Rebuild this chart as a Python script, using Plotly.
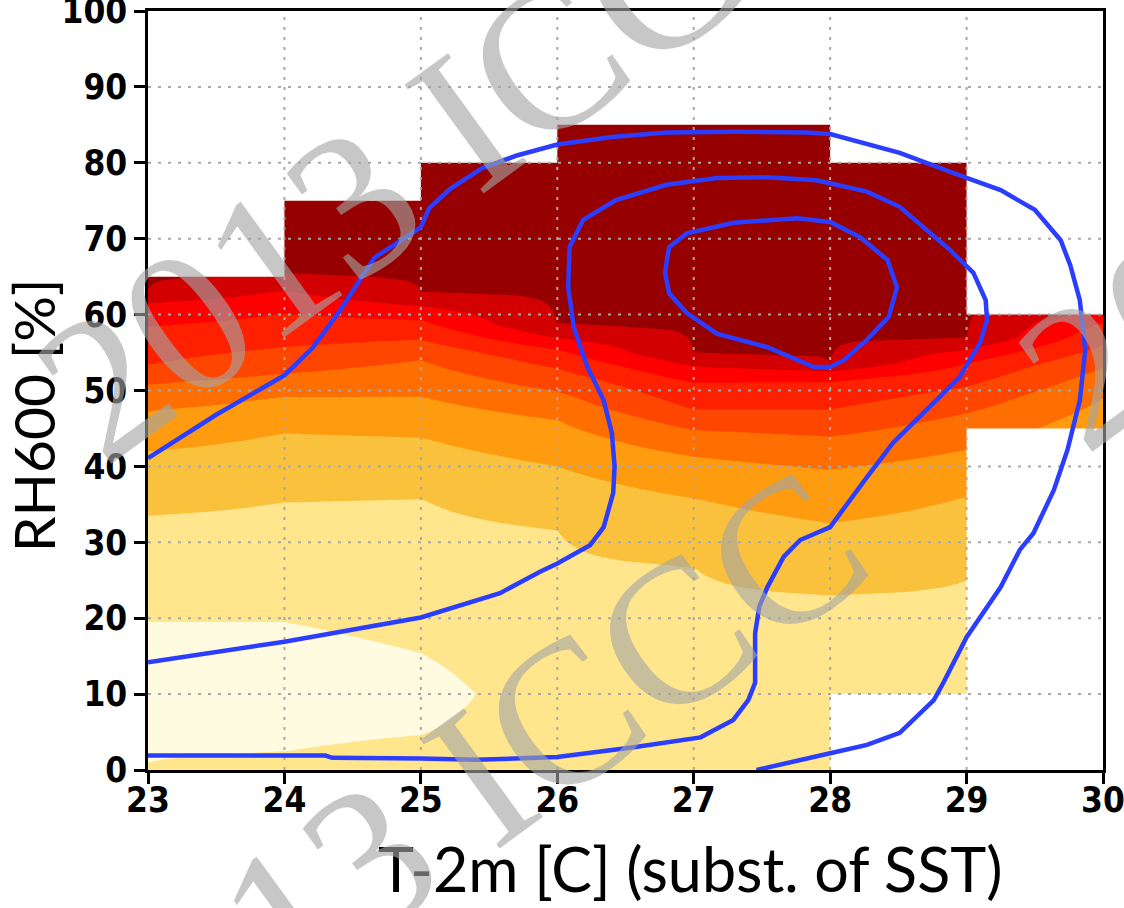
import math
import numpy as np
import plotly.graph_objects as go

# ---------------- data ----------------
x_cols = [23, 24, 25, 26, 27, 28, 29, 30]
# height (RH600 %) of each shading-class boundary at every T-2m column
b2 = [33.5, 35.3, 35.8, 31.6, 26.8, 23.0, 25.0, 32.0]
b3 = [42.0, 44.4, 43.8, 40.0, 35.8, 32.5, 36.0, 41.5]
b4 = [47.3, 49.2, 49.2, 46.1, 41.3, 39.6, 42.2, 49.0]
b5 = [50.8, 52.2, 54.0, 49.9, 44.8, 43.9, 47.0, 53.0]
b6 = [53.4, 55.7, 56.7, 52.9, 47.5, 47.5, 50.5, 56.0]
b7 = [58.4, 60.1, 59.3, 55.4, 51.0, 51.2, 53.6, 59.0]
b8 = [61.5, 63.2, 61.1, 56.9, 53.2, 52.5, 55.4, 60.3]
b9 = [63.2, 65.2, 63.0, 58.6, 54.9, 53.6, 56.9, 61.5]
# lowest class (cream island) in the first columns
cream_low = [1.0, 2.4, 4.6]
cream_high = [19.5, 19.5, 15.4]
cream_core = [0.5, 0.5, 0.6]

# data coverage per 1-degree bin
bin_edges = [23, 24, 25, 26, 27, 28, 29, 30]
bin_top = [65, 75, 80, 85, 85, 80, 60]
bin_bottom = [0, 0, 0, 0, 0, 10, 45]

class_colors = ['#FFFBE0', '#FFE68C', '#FAC23C', '#FF9B0F', '#FF6E00',
                '#FF4600', '#FF2000', '#FF0000', '#D20000', '#960000']

# blue frequency contours
outer_x = [23.0, 23.5, 24.0, 24.21, 24.41, 24.66, 25.0, 25.06, 25.21, 25.45, 25.71,
           26.0, 26.4, 26.8, 27.3, 27.83, 28.0, 28.51, 29.0, 29.25, 29.5, 29.69,
           29.76, 29.83, 29.87, 29.83, 29.74, 29.64, 29.49, 29.39, 29.25, 29.0,
           28.83, 28.76, 28.51, 28.27, 28.0, 27.46]
outer_y = [41.1, 46.8, 52.0, 55.7, 60.6, 67.5, 71.5, 74.0, 76.5, 79.3, 81.0,
           82.4, 83.4, 84.0, 84.1, 84.0, 83.8, 81.3, 78.0, 76.4, 73.8, 69.8,
           66.5, 61.9, 55.3, 48.7, 42.2, 36.9, 31.2, 29.0, 24.1, 17.5,
           11.5, 9.2, 4.9, 3.3, 2.2, 0.0]

middle_x = [23.0, 24.0, 25.0, 25.58, 25.87, 26.0, 26.24, 26.34, 26.41, 26.42, 26.4,
            26.34, 26.22, 26.12, 26.08, 26.09, 26.19, 26.43, 26.8, 27.17, 27.54,
            27.9, 28.27, 28.51, 28.88, 29.05, 29.14, 29.15, 29.1, 28.95, 28.76,
            28.46, 28.27, 28.1, 28.0, 27.78, 27.66, 27.54, 27.48, 27.45, 27.45,
            27.4, 27.29, 27.05, 26.56, 26.0, 25.6, 25.4, 25.0, 24.35, 24.3, 23.0]
middle_y = [14.2, 16.9, 20.1, 23.3, 26.1, 27.2, 29.6, 32.0, 36.5, 40.0, 44.4,
            48.7, 53.1, 58.4, 63.6, 68.9, 72.5, 75.1, 77.1, 78.0, 78.1,
            77.7, 76.2, 74.2, 68.5, 65.5, 61.9, 59.3, 56.3, 51.8, 48.4,
            43.1, 38.6, 34.3, 32.0, 30.3, 28.1, 24.1, 21.5, 18.0, 11.5,
            9.2, 6.6, 4.3, 3.0, 1.7, 1.4, 1.35, 1.5, 1.6, 1.9, 1.9]

inner_x = [26.8, 26.82, 26.95, 27.29, 27.76, 28.0, 28.22, 28.42, 28.49, 28.43,
           28.27, 28.1, 28.0, 27.88, 27.54, 27.17, 26.95, 26.82, 26.79, 26.8]
inner_y = [66.8, 68.9, 70.7, 72.1, 72.7, 72.2, 70.2, 67.2, 63.6, 59.7,
           56.7, 54.0, 53.1, 53.1, 55.7, 57.5, 60.2, 62.8, 65.5, 66.8]

x_ticks = [23, 24, 25, 26, 27, 28, 29, 30]
y_ticks = [0, 10, 20, 30, 40, 50, 60, 70, 80, 90, 100]

watermark_text = '2013 ICCC'

# ---------------- field built from the boundaries ----------------
bounds = np.array([b2, b3, b4, b5, b6, b7, b8, b9])
y_grid = np.arange(0, 100.01, 0.5)
Z = np.zeros((len(y_grid), len(x_cols)))
for i in range(len(x_cols)):
    ky = [0.0]
    kz = [1.4]
    if i < len(cream_low):
        ky += [cream_low[i], (cream_low[i] + cream_high[i]) / 2, cream_high[i]]
        kz += [1.0, cream_core[i], 1.0]
    ky += list(bounds[:, i])
    kz += list(range(2, 10))
    ky += [100.0]
    kz += [10.0]
    Z[:, i] = np.interp(y_grid, ky, kz)

fig = go.Figure()
fig.add_trace(go.Contour(
    x=x_cols, y=y_grid, z=Z,
    autocontour=False,
    contours=dict(start=1, end=9, size=1, coloring='fill', showlines=False),
    line=dict(width=0, smoothing=0),
    colorscale=[[k / 9, c] for k, c in enumerate(class_colors)],
    showscale=False, hoverinfo='skip'))

# white mask where there is no data
tx, ty = [bin_edges[0] - 0.1, bin_edges[0] - 0.1], [101, bin_top[0]]
bx, by = [bin_edges[0] - 0.1, bin_edges[0] - 0.1], [-1, bin_bottom[0]]
for k in range(len(bin_top)):
    tx += [bin_edges[k], bin_edges[k + 1]]
    ty += [bin_top[k], bin_top[k]]
    bx += [bin_edges[k], bin_edges[k + 1]]
    by += [bin_bottom[k], bin_bottom[k]]
tx += [bin_edges[-1] + 0.1, bin_edges[-1] + 0.1]
ty += [bin_top[-1], 101]
bx += [bin_edges[-1] + 0.1, bin_edges[-1] + 0.1]
by += [bin_bottom[-1], -1]
for px, py in ((tx, ty), (bx, by)):
    fig.add_trace(go.Scatter(x=px, y=py, mode='lines', fill='toself',
                             fillcolor='white', line=dict(width=0, color='white'),
                             hoverinfo='skip', showlegend=False))

# dotted grid
gx, gy = [], []
for v in x_ticks[1:-1]:
    gx += [v, v, None]
    gy += [0, 100, None]
for v in y_ticks[1:-1]:
    gx += [23, 30, None]
    gy += [v, v, None]
fig.add_trace(go.Scatter(x=gx, y=gy, mode='lines',
                         line=dict(color='#A8A8A8', width=2, dash='3px,7px'),
                         hoverinfo='skip', showlegend=False))

for cx, cy in ((outer_x, outer_y), (middle_x, middle_y), (inner_x, inner_y)):
    fig.add_trace(go.Scatter(x=cx, y=cy, mode='lines',
                             line=dict(color='#2B3DFF', width=4.5),
                             hoverinfo='skip', showlegend=False))

tick_font = dict(family='Liberation Sans Narrow, DejaVu Sans Condensed, Arial Narrow, sans-serif',
                 size=35, color='black', weight='bold')
axis_common = dict(showline=True, linecolor='black', linewidth=2.5, mirror=True,
                   ticks='outside', ticklen=11, tickwidth=2.5, tickcolor='black',
                   showgrid=False, zeroline=False, tickfont=tick_font,
                   ticklabeloverflow='allow', automargin=False)
fig.update_xaxes(range=[23, 30], tickvals=x_ticks, ticklabelstandoff=-14, **axis_common)
fig.update_yaxes(range=[0, 100], tickvals=y_ticks, ticklabelstandoff=0, **axis_common)

# ---------------- layout / texts ----------------
W, H = 1124, 908
ML, MR, MT, MB = 148, 21, 11, 138
PW, PH = W - ML - MR, H - MT - MB


def to_paper(px, py):
    return (px - ML) / PW, (H - MB - py) / PH


annotations = [
    dict(text='T-2m [C] (subst. of SST)', xref='paper', yref='paper',
         x=0.568, y=-0.13, xanchor='center', yanchor='middle', showarrow=False,
         font=dict(family='Lato, Open Sans, sans-serif', size=61, color='black')),
    dict(text='RH600 [%]', xref='paper', yref='paper',
         x=-0.121, y=0.468, xanchor='center', yanchor='middle',
         textangle=-90, showarrow=False,
         font=dict(family='Lato, Open Sans, sans-serif', size=57, color='black')),
]

# diagonal watermark, one annotation per glyph
wm_em = 205
wm_angle = 36
wm_adv = {'2': 0.5, '0': 0.5, '1': 0.5, '3': 0.5, ' ': 0.25, 'I': 0.333, 'C': 0.667}
wm_starts = [(103, 467), (119, 1122), (1084, 455)]
wm_font = dict(family='Liberation Serif, DejaVu Serif, serif', size=wm_em,
               color='rgba(165,165,165,0.62)')
ca, sa = math.cos(math.radians(wm_angle)), math.sin(math.radians(wm_angle))
for sx, sy in wm_starts:
    cum = 0.0
    for ch in watermark_text:
        w = wm_adv[ch]
        if ch != ' ':
            d = (cum + w / 2) * wm_em
            bxp, byp = sx + d * ca, sy - d * sa
            cxp, cyp = bxp - 0.33 * wm_em * sa, byp - 0.33 * wm_em * ca
            if -150 < cxp < W + 150 and -150 < cyp < H + 150:
                px_, py_ = to_paper(cxp, cyp)
                annotations.append(dict(text=ch, xref='paper', yref='paper',
                                        x=px_, y=py_, xanchor='center',
                                        yanchor='middle', textangle=-wm_angle,
                                        showarrow=False, font=wm_font))
        cum += w

fig.update_layout(
    width=W, height=H,
    margin=dict(l=ML, r=MR, t=MT, b=MB),
    plot_bgcolor='white', paper_bgcolor='white',
    showlegend=False,
    annotations=annotations)

fig.write_html('out.html')
